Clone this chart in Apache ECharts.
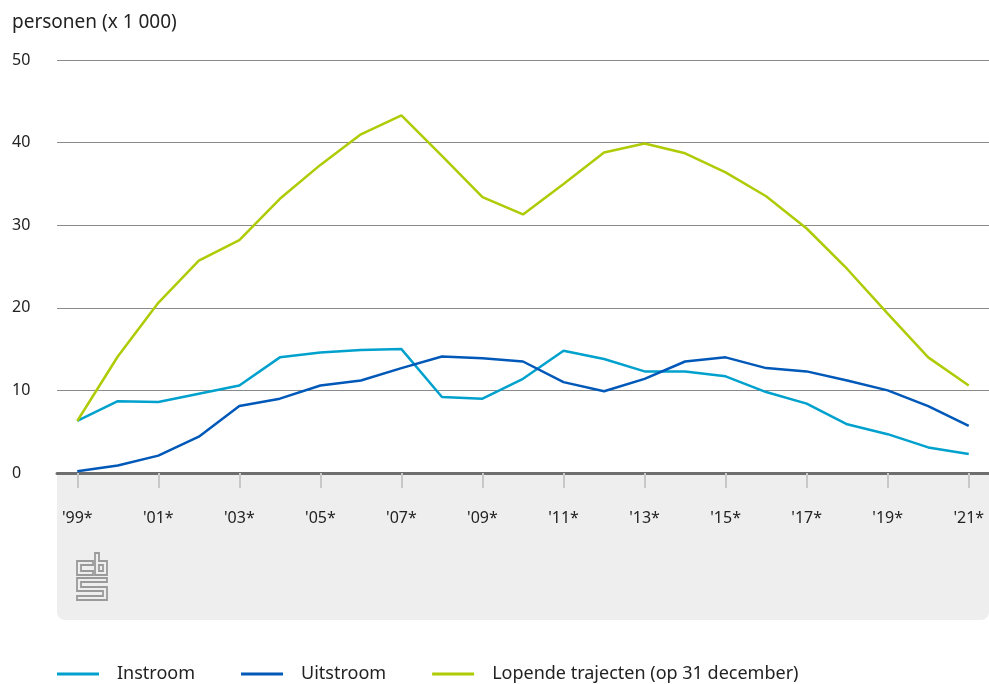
<!DOCTYPE html>
<html>
<head>
<meta charset="utf-8">
<script src="https://cdn.jsdelivr.net/npm/echarts@6/dist/echarts.min.js"></script>
<style>html,body{margin:0;padding:0;background:#fff}#c{width:989px;height:684px}</style>
</head>
<body>
<div id="c"></div>
<script>
const years = ["'99*","'00*","'01*","'02*","'03*","'04*","'05*","'06*","'07*","'08*","'09*","'10*","'11*","'12*","'13*","'14*","'15*","'16*","'17*","'18*","'19*","'20*","'21*"];
const instroom = [6.3,8.7,8.6,9.6,10.6,14.0,14.6,14.9,15.0,9.2,9.0,11.4,14.8,13.8,12.3,12.3,11.7,9.8,8.4,5.9,4.7,3.1,2.3];
const uitstroom = [0.2,0.9,2.1,4.4,8.1,9.0,10.6,11.2,12.7,14.1,13.9,13.5,11.0,9.9,11.4,13.5,14.0,12.7,12.3,11.2,10.0,8.1,5.7];
const lopende = [6.3,14.1,20.6,25.7,28.2,33.2,37.3,41.0,43.3,38.4,33.4,31.3,35.0,38.8,39.9,38.7,36.4,33.5,29.6,24.7,19.3,14.0,10.6];
const seriesNames = ['Instroom','Uitstroom','Lopende trajecten (op 31 december)'];
const colors = ['#00a1cd','#0058b8','#afcb05'];
const yTicks = {min:0,max:50,interval:10};

const chart = echarts.init(document.getElementById('c'), null, {renderer:'canvas'});
const font = '"Noto Sans", sans-serif';
chart.setOption({
  animation:false,
  color: colors,
  textStyle:{fontFamily:font},
  title:{text:'personen (x 1 000)', left:12, top:13, padding:0, textStyle:{fontFamily:font,fontSize:19,fontWeight:'normal',color:'#222'}},
  grid:{left:57, right:-2, top:60, bottom:211, containLabel:false},
  legend:{
    left:57, top:665, padding:0, icon:'rect', itemWidth:42, itemHeight:3, itemGap:46,
    textStyle:{fontFamily:font,fontSize:18,color:'#222',padding:[0,0,0,13]},
    data:seriesNames
  },
  graphic:[
    {type:'rect', z:-10, shape:{x:57,y:474,width:932,height:146,r:[0,0,8,8]}, style:{fill:'#eeeeee'}},
    {type:'group', z:-5, children:[
      {type:'polygon', shape:{points:[[93,561],[77,561],[77,575],[93,575],[93,571],[81,571],[81,565],[93,565]]}, style:{fill:'none',stroke:'#9a9a9a',lineWidth:1.8}},
      {type:'polygon', shape:{points:[[95,553],[99,553],[99,561],[107,561],[107,575],[95,575]]}, style:{fill:'none',stroke:'#9a9a9a',lineWidth:1.8}},
      {type:'rect', shape:{x:99,y:565,width:4,height:6}, style:{fill:'none',stroke:'#9a9a9a',lineWidth:1.8}},
      {type:'polygon', shape:{points:[[77,578],[107,578],[107,582],[81,582],[81,587],[107,587],[107,600],[77,600],[77,596],[103,596],[103,591],[77,591]]}, style:{fill:'none',stroke:'#9a9a9a',lineWidth:1.8}}
    ]}
  ],
  xAxis:{
    type:'category', data:years, boundaryGap:true,
    axisLine:{show:true, lineStyle:{color:'#6e6e6e', width:3}},
    axisTick:{show:true, alignWithLabel:true, interval:1, length:15, lineStyle:{color:'#c8c8c8', width:2}},
    axisLabel:{interval:1, margin:37, fontFamily:font, fontSize:16, color:'#222'},
    splitLine:{show:false}
  },
  yAxis:{
    type:'value', min:yTicks.min, max:yTicks.max, interval:yTicks.interval,
    axisLine:{show:false}, axisTick:{show:false},
    axisLabel:{align:'left', margin:45, fontFamily:font, fontSize:16, color:'#222', showMinLabel:true},
    splitLine:{lineStyle:{color:'#8a8a8a', width:1}}
  },
  series:[
    {name:seriesNames[0], type:'line', data:instroom, symbol:'none', lineStyle:{width:2.5, color:colors[0]}, z:3},
    {name:seriesNames[1], type:'line', data:uitstroom, symbol:'none', lineStyle:{width:2.5, color:colors[1]}, z:3},
    {name:seriesNames[2], type:'line', data:lopende, symbol:'none', lineStyle:{width:2.5, color:colors[2]}, z:4}
  ]
});
</script>
</body>
</html>
